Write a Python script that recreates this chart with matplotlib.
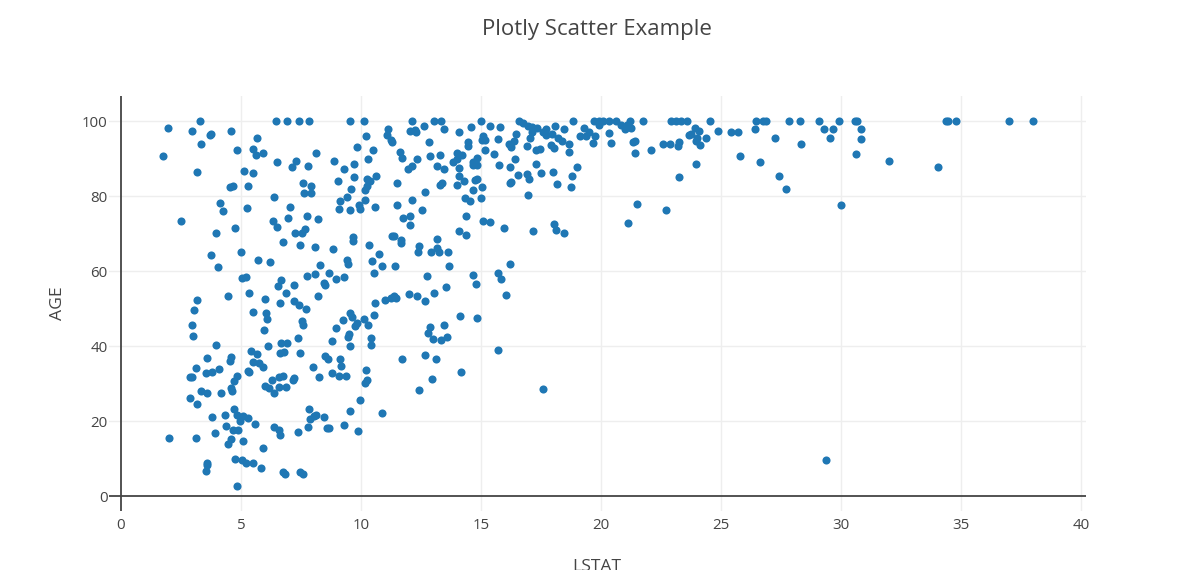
import matplotlib as mpl
mpl.use('Agg')

import numpy as np
import matplotlib.pyplot as plt

# values, region by region (left to right)
LSTAT = [
    # x 0-6, top
    1.94, 3.27, 2.97, 3.73, 3.70, 4.60, 5.68, 3.33, 1.74, 4.82,
    5.50, 5.62, 5.91, 3.15, 5.12, 5.50, 4.56, 4.65, 5.29, 4.14,
    4.23, 5.25, 2.48, 4.74, 3.96, 3.76, 4.99, 5.69, 6.19, 4.03,
    5.04, 5.22, 4.46, 5.33, 5.98, 3.17,
    # x 0-6, bottom
    3.02, 2.94, 2.98, 5.50, 6.04, 6.07, 5.97, 3.96, 6.12, 3.59,
    4.60, 4.52, 5.40, 5.66, 5.50, 5.76, 5.90, 3.12, 3.55, 3.81,
    4.09, 2.87, 2.94, 5.29, 5.35, 4.85, 4.70, 4.59, 4.62, 6.00,
    6.18, 3.33, 3.58, 4.16, 2.88, 3.17, 4.71, 4.82, 5.10, 5.28,
    4.97, 3.77, 4.32, 5.58, 4.39, 4.67, 4.86, 3.92, 2.00, 3.12,
    4.59, 4.47, 5.08, 5.90, 4.75, 5.03, 3.60, 3.57, 3.55, 5.19,
    5.51, 5.82, 4.85,
    # x 6-12.5, top
    6.45, 6.90, 7.41, 7.81, 9.53, 10.11, 11.12, 12.13, 11.09, 11.23,
    11.30, 12.03, 12.23, 12.27, 10.19, 9.81, 10.51, 8.12, 6.49, 7.28,
    7.14, 7.80, 8.89, 10.29, 11.63, 11.71, 12.32, 9.72, 9.29, 11.95,
    12.14, 9.71, 9.05, 7.57, 7.91, 7.61, 7.90, 10.24, 10.37, 10.62,
    10.26, 10.17, 9.59, 9.43, 10.15, 11.48, 12.13, 6.38, 9.14, 9.08,
    9.54, 9.93, 9.97, 10.59, 11.49, 7.03, 6.95, 7.75, 8.22, 6.32,
    6.49, 7.23, 7.55, 7.68, 11.73, 12.03, 12.03, 6.75, 7.46, 8.06,
    8.81, 9.67, 9.67, 10.35, 11.29, 11.37, 11.65, 11.66, 12.42, 12.39,
    10.73, 10.46, 9.43, 9.45, 8.27, 10.89, 11.41, 10.55, 7.75, 8.06,
    8.66, 8.95, 9.29, 6.67, 6.54, 7.19, 6.89, 8.44, 8.49, 8.20,
    10.99, 11.23, 11.37, 11.45, 12.01, 12.34,
    # x 6-12.5, bottom
    6.61, 7.22, 7.41, 7.72, 10.58, 9.53, 9.63, 9.23, 8.95, 9.81,
    9.75, 10.12, 10.28, 10.53, 7.52, 7.59, 9.50, 9.47, 9.53, 10.40,
    10.43, 7.39, 8.78, 6.68, 6.92, 6.64, 6.77, 7.44, 8.51, 8.62,
    9.11, 9.15, 11.69, 8.01, 8.80, 8.24, 9.09, 9.39, 10.22, 10.24,
    10.17, 6.57, 6.75, 6.29, 6.39, 6.60, 6.87, 7.19, 7.15, 9.96,
    12.42, 7.84, 7.86, 8.04, 8.13, 8.44, 9.52, 10.87, 6.39, 6.57,
    6.61, 7.36, 7.80, 8.56, 8.68, 9.27, 9.88, 6.74, 6.81, 7.46,
    7.57,
    # x 12.5-18.7, top
    12.62, 13.05, 13.33, 13.44, 14.10, 14.60, 15.01, 15.39, 15.79, 16.59,
    16.73, 16.96, 17.13, 17.31, 17.12, 17.04, 17.56, 17.70, 17.71, 18.08,
    17.97, 18.22, 18.44, 18.37, 18.68, 18.68, 12.83, 14.45, 14.45, 15.10,
    15.03, 15.18, 15.71, 16.18, 16.24, 16.35, 16.47, 16.90, 17.28, 17.45,
    17.91, 18.05, 15.18, 12.88, 13.28, 13.99, 14.20, 13.85, 13.99, 14.82,
    14.68, 14.68, 14.85, 15.55, 16.42, 13.15, 13.47, 14.10, 15.76, 16.22,
    17.28, 14.08, 14.27, 13.98, 13.30, 13.38, 14.75, 14.83, 15.03, 14.68,
    16.52, 16.26, 16.22, 16.93, 17.00, 17.51, 17.99, 18.18, 12.68, 16.94,
    14.35, 14.53, 15.00, 12.54, 14.38, 15.10, 15.37, 15.94, 17.16, 18.05,
    18.13, 18.44, 14.10, 14.39, 13.17, 12.93, 13.17, 13.26, 13.63, 13.67,
    16.19, 12.75, 14.67, 15.69, 15.85, 14.78, 13.52, 13.02, 12.68, 16.04,
    # x 12.5-18.7, bottom
    14.14, 14.81, 12.88, 12.80, 13.45, 13.01, 13.34, 13.60, 15.71, 12.65,
    13.11, 14.16, 12.94, 17.59,
    # x 18.7-25
    18.83, 19.28, 19.11, 19.35, 19.49, 19.75, 19.65, 18.99, 18.78, 18.75,
    19.72, 19.93, 19.90, 20.07, 20.31, 20.60, 20.83, 20.99, 21.07, 21.19,
    21.26, 21.76, 20.32, 20.42, 21.31, 21.43, 21.43, 22.08, 22.57, 22.85,
    22.92, 23.13, 23.33, 23.57, 23.25, 23.21, 23.67, 23.76, 23.93, 24.08,
    24.00, 23.96, 24.14, 24.36, 24.54, 24.89, 23.94, 23.26, 21.49, 22.71,
    21.11,
    # x > 25
    25.40, 25.69, 26.40, 26.44, 26.76, 26.85, 25.79, 26.64, 27.26, 27.39,
    27.72, 27.81, 28.28, 28.32, 29.06, 29.29, 29.54, 29.68, 29.93, 29.99,
    30.56, 30.64, 30.82, 30.82, 30.63, 32.00, 34.03, 34.36, 34.44, 34.79,
    36.99, 37.99, 29.38,
]

AGE = [
    # x 0-6, top
    98.2, 100, 97.4, 96.7, 96.2, 97.3, 95.6, 93.9, 90.8, 92.2,
    92.5, 91.0, 91.5, 86.5, 86.8, 86.3, 82.4, 82.8, 82.8, 78.3,
    76.0, 76.9, 73.3, 71.6, 70.3, 64.4, 65.2, 63.0, 62.4, 61.1,
    58.3, 58.6, 53.5, 54.1, 52.7, 52.4,
    # x 0-6, bottom
    49.6, 45.7, 42.8, 49.2, 48.9, 47.4, 44.3, 40.4, 40.0, 36.8,
    37.2, 36.0, 38.8, 38.0, 35.8, 35.6, 34.4, 34.1, 32.9, 33.2,
    34.0, 31.7, 31.8, 33.5, 33.1, 32.1, 30.7, 29.0, 28.1, 29.5,
    28.8, 28.0, 27.6, 27.5, 26.2, 24.6, 23.4, 21.8, 21.4, 21.0,
    20.2, 21.3, 21.7, 19.4, 18.7, 17.8, 17.6, 16.9, 15.7, 15.6,
    15.4, 13.9, 14.7, 13.0, 9.9, 9.8, 8.8, 8.3, 6.8, 8.8,
    8.8, 7.6, 2.8,
    # x 6-12.5, top
    100, 100, 100, 100, 100, 100, 98.0, 100, 96.2, 95.1,
    94.5, 97.3, 97.6, 97.0, 96.1, 93.0, 92.3, 91.6, 89.2, 89.4,
    87.8, 88.0, 89.5, 89.8, 91.9, 90.3, 90.0, 88.5, 87.2, 87.2,
    88.0, 85.0, 84.1, 83.4, 82.8, 80.8, 80.8, 84.5, 84.0, 85.4,
    82.8, 81.6, 81.8, 79.7, 79.1, 83.5, 79.1, 79.8, 78.8, 76.6,
    76.4, 77.6, 76.6, 77.2, 77.7, 77.0, 74.3, 74.8, 73.8, 73.4,
    71.9, 70.3, 70.3, 71.3, 74.3, 74.8, 72.4, 67.7, 66.9, 66.5,
    66.0, 69.0, 68.0, 67.1, 69.5, 69.4, 68.2, 67.5, 66.6, 65.1,
    64.6, 62.8, 63.0, 62.0, 61.8, 61.5, 61.4, 59.6, 58.7, 59.4,
    59.6, 58.0, 58.5, 57.7, 56.1, 56.3, 54.2, 56.9, 56.3, 53.5,
    52.4, 53.0, 53.5, 53.0, 53.9, 53.5,
    # x 6-12.5, bottom
    51.6, 52.0, 50.9, 49.9, 51.6, 49.0, 47.8, 47.1, 44.9, 46.2,
    45.3, 47.2, 45.8, 48.4, 46.7, 45.6, 43.4, 42.5, 40.2, 42.3,
    40.3, 42.1, 41.4, 41.0, 41.0, 38.3, 38.5, 38.3, 37.3, 36.5,
    36.5, 34.8, 36.5, 34.4, 33.0, 31.7, 32.1, 32.2, 33.8, 31.1,
    30.3, 31.9, 32.1, 31.1, 27.6, 29.2, 29.1, 31.6, 31.0, 25.7,
    28.3, 23.2, 20.7, 21.4, 21.6, 21.3, 22.8, 22.2, 18.5, 17.6,
    16.3, 17.1, 18.4, 18.3, 18.3, 19.0, 17.4, 6.5, 6.0, 6.4,
    6.0,
    # x 12.5-18.7, top
    98.8, 100, 100, 97.9, 97.2, 98.4, 100, 98.8, 98.5, 100,
    99.4, 98.8, 98.5, 98.3, 97.0, 95.6, 97.0, 98.0, 96.2, 98.8,
    96.5, 95.4, 97.9, 94.8, 93.9, 91.8, 94.4, 94.5, 93.4, 96.0,
    95.1, 95.1, 95.2, 94.0, 93.2, 94.7, 96.7, 93.5, 92.2, 92.6,
    93.6, 92.9, 92.4, 90.7, 91.0, 91.4, 90.9, 89.1, 89.8, 90.3,
    89.0, 88.4, 88.4, 91.2, 89.9, 88.0, 87.3, 87.5, 88.2, 87.8,
    88.7, 85.4, 84.1, 82.9, 82.9, 83.6, 84.4, 84.5, 82.5, 81.6,
    85.6, 83.8, 83.5, 86.0, 84.5, 86.1, 86.4, 83.2, 81.2, 80.3,
    79.6, 78.7, 79.6, 76.4, 74.8, 73.5, 73.1, 71.6, 70.6, 72.7,
    71.0, 70.1, 70.6, 69.6, 68.7, 65.2, 66.1, 65.2, 65.1, 61.4,
    62.0, 58.8, 59.0, 59.6, 57.9, 56.6, 55.9, 54.3, 52.2, 53.8,
    # x 12.5-18.7, bottom
    48.2, 47.6, 45.2, 43.6, 45.6, 42.0, 41.8, 42.5, 38.9, 37.8,
    36.7, 33.2, 31.4, 28.7,
    # x 18.7-25
    100, 98.3, 96.1, 96.0, 97.2, 96.0, 94.3, 87.8, 85.5, 82.4,
    100, 100, 98.9, 100, 100, 100, 98.9, 98.0, 98.9, 100,
    98.3, 100, 96.9, 94.3, 94.5, 94.8, 91.4, 92.4, 94.0, 93.9,
    100, 100, 100, 100, 94.5, 93.3, 96.3, 96.5, 98.3, 97.3,
    95.4, 94.8, 93.6, 95.4, 100, 97.3, 88.6, 85.1, 78.0, 76.4,
    72.8,
    # x > 25
    97.0, 97.0, 97.9, 100, 100, 100, 90.8, 89.1, 95.6, 85.3,
    82.0, 100, 100, 93.8, 100, 97.8, 95.6, 98.0, 100, 77.7,
    100, 100, 98.0, 95.2, 91.2, 89.5, 87.8, 100, 100, 100,
    100, 100, 9.6,
]

X_TICKS = [0, 5, 10, 15, 20, 25, 30, 35, 40]
Y_TICKS = [0, 20, 40, 60, 80, 100]


def main():
    plt.rcParams['font.family'] = ['Open Sans', 'DejaVu Sans']
    text_color = '#444444'

    x = np.array(LSTAT)
    y = np.array(AGE)
    assert len(x) == len(y)

    fig = plt.figure(figsize=(11.93, 5.70), dpi=100)
    ax = fig.add_axes([0.0914, 0.104, 0.8189, 0.7276])

    ax.scatter(x, y, s=34, color='#1f77b4', linewidths=0, zorder=3)

    ax.set_xlim(-0.5, 40.2)
    ax.set_ylim(-3.8, 106.7)
    ax.set_xticks(X_TICKS)
    ax.set_yticks(Y_TICKS)

    for t in X_TICKS[1:]:
        ax.axvline(t, color='#eeeeee', lw=1, zorder=1)
    for t in Y_TICKS[1:]:
        ax.axhline(t, color='#eeeeee', lw=1, zorder=1)
    ax.axvline(0, color=text_color, lw=1.3, zorder=2)
    ax.axhline(0, color=text_color, lw=1.3, zorder=2)

    for side in ['top', 'right', 'bottom', 'left']:
        ax.spines[side].set_visible(False)
    ax.tick_params(length=0, labelsize=10.8, labelcolor=text_color)
    ax.tick_params(axis='x', pad=5)
    ax.tick_params(axis='y', pad=1)

    fig.text(0.5, 0.949, 'Plotly Scatter Example', ha='center', va='center',
             fontsize=16, color=text_color)
    fig.text(0.0486, 0.468, 'AGE', rotation=90, ha='center', va='center',
             fontsize=12.6, color=text_color)
    # the reference cuts this label at the bottom edge as well
    fig.text(0.5, 0.006, 'LSTAT', ha='center', va='center',
             fontsize=12.6, color=text_color)

    fig.savefig('out.png', dpi=100)


if __name__ == '__main__':
    main()
